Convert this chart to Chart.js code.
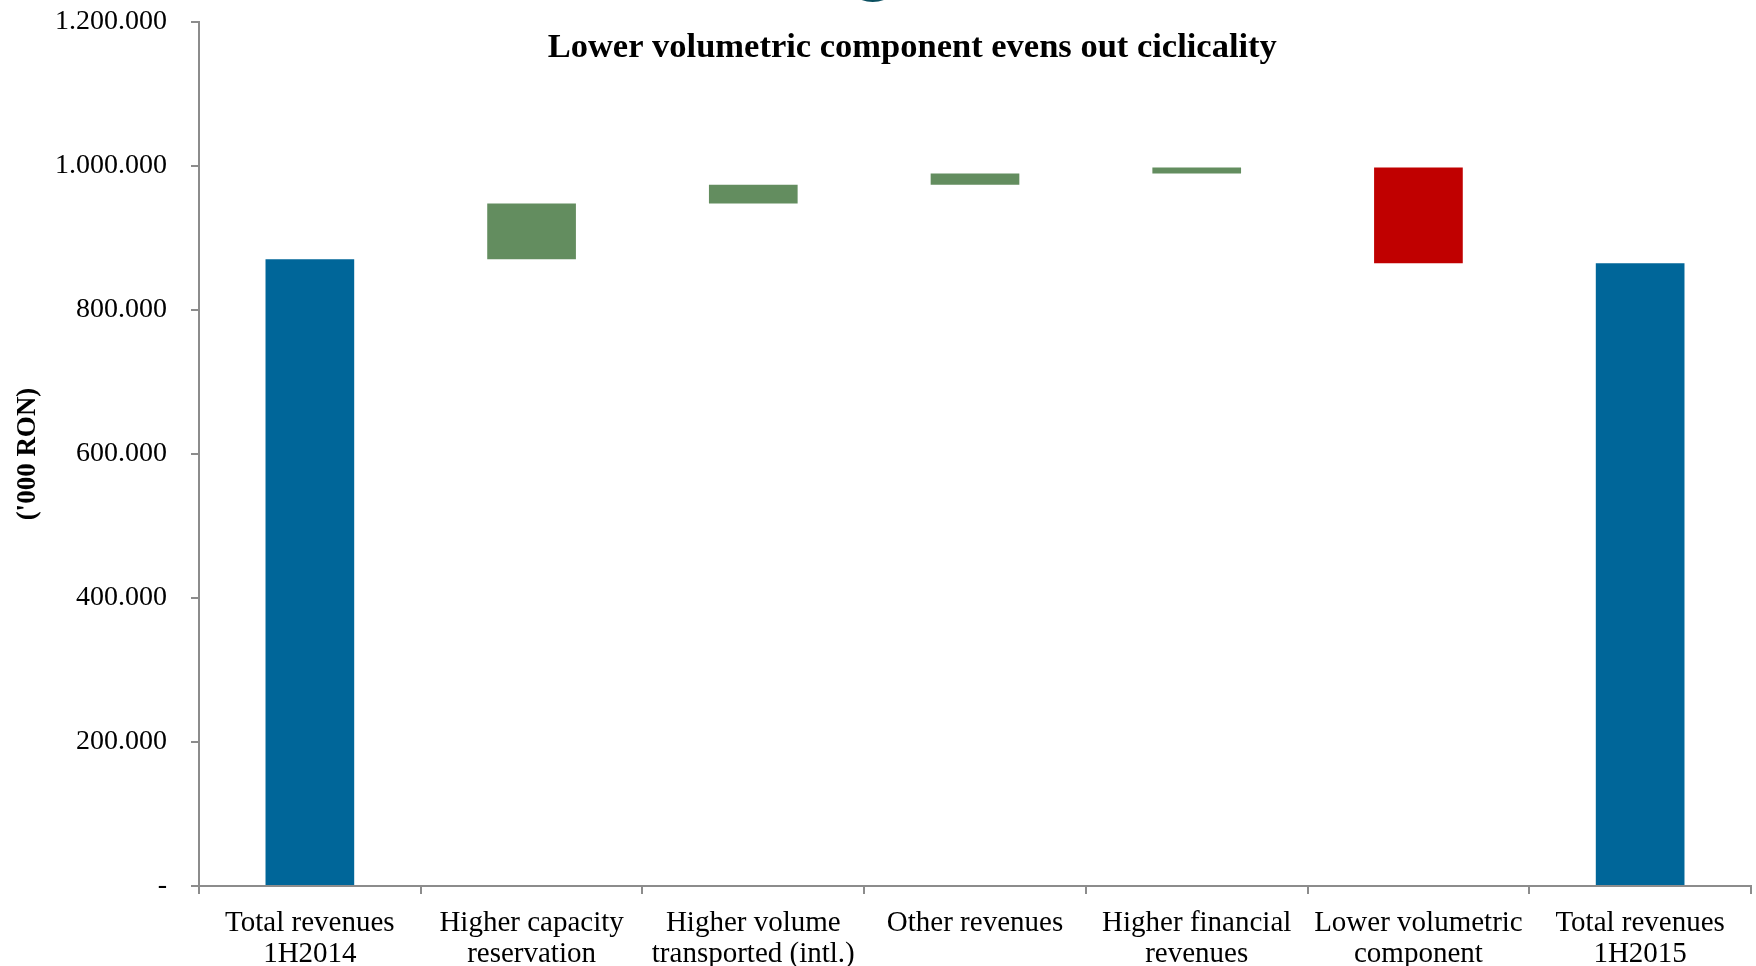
<!DOCTYPE html>
<html>
<head>
<meta charset="utf-8">
<script src="https://cdn.jsdelivr.net/npm/chart.js@4.4.1/dist/chart.umd.min.js"></script>
<style>
  html, body { margin: 0; padding: 0; background: #ffffff; }
  #wrap { width: 1756px; height: 966px; position: relative; }
</style>
</head>
<body>
<div id="wrap"><canvas id="c"></canvas></div>
<script>
// Revenue bridge, 1H2014 -> 1H2015 ('000 RON)
const categories = [
  ["Total revenues", "1H2014"],
  ["Higher capacity", "reservation"],
  ["Higher volume", "transported (intl.)"],
  ["Other revenues"],
  ["Higher financial", "revenues"],
  ["Lower volumetric", "component"],
  ["Total revenues", "1H2015"]
];
const openingTotal = 870500;
const changes = [77500, 26000, 15500, 8500, -133000];
const closingTotal = 865000;
const yTickValues = [0, 200000, 400000, 600000, 800000, 1000000, 1200000];
const chartTitle = "Lower volumetric component evens out ciclicality";
const axisTitle = "('000 RON)";

const COLOR_TOTAL = "#006699";
const COLOR_UP = "#638D5F";
const COLOR_DOWN = "#C00000";
const AXIS_GREY = "#8c8c8c";
const FONT = "'Liberation Serif', 'Times New Roman', serif";

// Floating bars: [start, end] for each step of the bridge
const ranges = [[0, openingTotal]];
const colors = [COLOR_TOTAL];
let running = openingTotal;
changes.forEach(d => {
  ranges.push([running, running + d]);
  colors.push(d >= 0 ? COLOR_UP : COLOR_DOWN);
  running += d;
});
ranges.push([0, closingTotal]);
colors.push(COLOR_TOTAL);

function fmtThousands(v) {
  if (v === 0) return "-";
  return String(Math.round(v)).replace(/\B(?=(\d{3})+(?!\d))/g, ".");
}

const headerPlugin = {
  id: "header",
  beforeDraw(chart) {
    const ctx = chart.ctx;
    ctx.save();
    // logo edge peeking in at the top
    ctx.fillStyle = "#0b4f60";
    ctx.beginPath();
    ctx.arc(chart.width * 0.497, -30, 32, 0, Math.PI * 2);
    ctx.fill();
    ctx.restore();
  },
  afterDraw(chart) {
    const ctx = chart.ctx;
    ctx.save();
    ctx.fillStyle = "#000000";
    ctx.font = "bold 34.5px " + FONT;
    ctx.textAlign = "center";
    ctx.textBaseline = "middle";
    ctx.fillText(chartTitle, chart.width * 0.5195, 48);
    ctx.restore();
  }
};

new Chart(document.getElementById("c"), {
  type: "bar",
  data: {
    labels: categories,
    datasets: [{
      data: ranges,
      backgroundColor: colors,
      borderWidth: 0,
      barPercentage: 0.4,
      categoryPercentage: 1.0
    }]
  },
  options: {
    responsive: true,
    maintainAspectRatio: false,
    animation: false,
    layout: { padding: { left: 0, right: 5, top: 22, bottom: 0 } },
    plugins: {
      legend: { display: false },
      tooltip: { enabled: false },
      title: { display: false }
    },
    scales: {
      x: {
        grid: {
          display: true,
          drawOnChartArea: false,
          drawTicks: true,
          tickLength: 8,
          offset: true,
          color: AXIS_GREY,
          lineWidth: 2
        },
        border: { display: true, color: AXIS_GREY, width: 2 },
        ticks: {
          color: "#000000",
          font: { family: FONT, size: 29, lineHeight: 1.07 },
          padding: 14,
          maxRotation: 0,
          autoSkip: false
        },
        afterFit(scale) { scale.height = 80; }
      },
      y: {
        min: 0,
        max: 1200000,
        afterBuildTicks(scale) {
          scale.ticks = yTickValues.map(v => ({ value: v }));
        },
        grid: {
          display: true,
          drawOnChartArea: false,
          drawTicks: true,
          tickLength: 8,
          color: AXIS_GREY,
          lineWidth: 2
        },
        border: { display: true, color: AXIS_GREY, width: 2 },
        ticks: {
          color: "#000000",
          font: { family: FONT, size: 28 },
          padding: 24,
          callback: v => fmtThousands(v)
        },
        title: {
          display: true,
          text: axisTitle,
          color: "#000000",
          font: { family: FONT, size: 27, weight: "bold" },
          padding: { top: 12, bottom: 0 }
        },
        afterFit(scale) {
          scale.width = 199;
          // let the outer layout padding alone decide the plot's top edge
          scale.paddingTop = 0;
          scale.paddingBottom = 0;
        }
      }
    }
  },
  plugins: [headerPlugin]
});
</script>
</body>
</html>
